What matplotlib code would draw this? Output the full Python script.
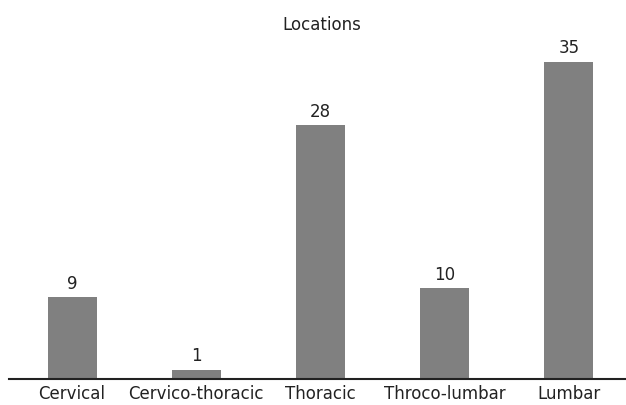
import matplotlib

matplotlib.use("Agg")
import matplotlib.pyplot as plt

categories = ["Cervical", "Cervico-thoracic", "Thoracic", "Throco-lumbar", "Lumbar"]
counts = [9, 1, 28, 10, 35]

BAR_COLOR = "#808080"

fig = plt.figure(figsize=(6.26, 4.05), dpi=100)
ax = fig.add_axes([9 / 626, 26 / 405, 617 / 626, 362.4 / 405])

xs = list(range(len(categories)))
bars = ax.bar(xs, counts, width=0.395, color=BAR_COLOR, zorder=2)
for x, v in zip(xs, counts):
    ax.text(x, v + 0.5, str(v), ha="center", va="bottom", fontsize=12, color="#222222")

ax.set_xlim(-0.508, 4.46)
ax.set_ylim(0, 40)
ax.set_xticks(xs)
ax.set_xticklabels(categories, fontsize=12, color="#222222")
ax.tick_params(axis="x", length=0, pad=4)
ax.set_yticks([])
for side in ("top", "right", "left"):
    ax.spines[side].set_visible(False)
ax.spines["bottom"].set_linewidth(1.5)
ax.spines["bottom"].set_color("#222222")

fig.text(322 / 626, 1 - 25 / 405, "Locations", ha="center", va="center", fontsize=12, color="#222222")

fig.savefig("out.png", dpi=100)
